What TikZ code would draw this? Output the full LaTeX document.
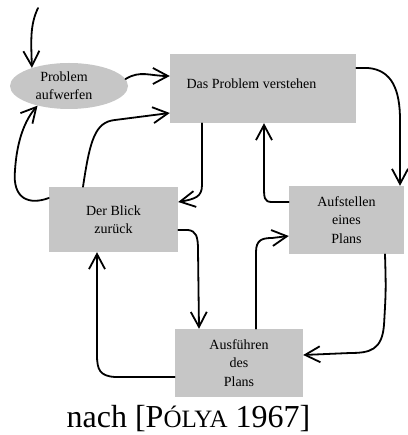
\documentclass[tikz,border=0pt]{standalone}
\usepackage{fontspec}
\setmainfont{Liberation Serif}
\usetikzlibrary{shapes.geometric,arrows.meta}
\definecolor{boxgray}{RGB}{198,198,198}
\tikzset{
  box/.style={fill=boxgray,draw=none,rectangle,inner sep=0pt,align=center,
    font=\fontsize{14}{18.5}\selectfont},
  oval/.style={fill=boxgray,draw=none,ellipse,inner sep=0pt,align=center,
    font=\fontsize{14}{18}\selectfont},
  lbl/.style={inner sep=0pt,font=\fontsize{14}{18}\selectfont},
  arr/.style={line width=1.8pt,-{Straight Barb[length=15pt,width=16pt,line width=1.8pt]},
    line cap=round,line join=round}
}
\begin{document}
\begin{tikzpicture}[x=1pt,y=-1pt]
\useasboundingbox (0,0) rectangle (407,435);
% nodes
\node[oval,minimum width=118pt,minimum height=46pt] (ell) at (69,86) {\hspace*{-10pt}Problem\\\hspace*{-10pt}aufwerfen};
\node[box,minimum width=186pt,minimum height=69pt] (verst) at (263,88.5) {};
\node[lbl] (vtext) at (251.5,84) {Das Problem verstehen};
\node[box,minimum width=129pt,minimum height=65pt] (blick) at (113.5,219.5) {Der Blick\\zurück};
\node[box,minimum width=115pt,minimum height=68pt] (aufst) at (346.5,220) {Aufstellen\\eines\\Plans};
\node[box,minimum width=128pt,minimum height=68pt] (ausf) at (239,363) {Ausführen\\des\\Plans};
\coordinate (top) at (38,8);
% connectors
\draw[arr] (top) .. controls (30,25) and (31,40) .. (ell.154);
\draw[arr] (ell.7) .. controls (140,70) and (150,76) .. ([yshift=12.5pt]verst.west);
\draw[arr] ([xshift=-30.5pt]blick.north) .. controls (90,140) and (95,122) .. (115,120) -- ([yshift=-24.5pt]verst.west);
\draw[arr] ([yshift=21.5pt]blick.west) .. controls (30,205) and (12,200) .. (15,170) .. controls (17,140) and (25,120) .. (ell.212);
\draw[arr] ([xshift=-61pt]verst.south) -- (202,185) .. controls (202,197) and (195,199) .. ([yshift=17.5pt]blick.east);
\draw[arr] ([yshift=18pt]aufst.west) -- (272,202) .. controls (264,202) and (264,198) .. (264,185) -- ([xshift=1pt]verst.south);
\draw[arr] ([yshift=20.5pt]verst.east) -- (368,68) .. controls (392,70) and (400,90) .. (400,120) -- ([xshift=53.5pt]aufst.north);
\draw[arr] ([xshift=38.5pt]aufst.south) .. controls (386,290) .. (384,325) .. controls (382,350) and (370,353) .. (350,353) -- ([yshift=8pt]ausf.east);
\draw[arr] ([xshift=17pt]ausf.north) -- (256,252) .. controls (256,240) and (262,238) .. (272,238) -- ([yshift=-16pt]aufst.west);
\draw[arr] ([yshift=-10.5pt]blick.east) -- (188,230) .. controls (196,231) and (198,236) .. (198,250) -- ([xshift=-40pt]ausf.north);
\draw[arr] ([yshift=-14pt]ausf.west) -- (115,377) .. controls (100,376) and (97,370) .. (97,355) -- ([xshift=-16.5pt]blick.south);
% caption
\node[inner sep=0pt,anchor=base,font=\fontsize{32}{36}\selectfont] (cap) at (188.5,427)
  {nach [P{\fontsize{25}{28}\selectfont ÓLYA} 1967]};
\end{tikzpicture}
\end{document}
